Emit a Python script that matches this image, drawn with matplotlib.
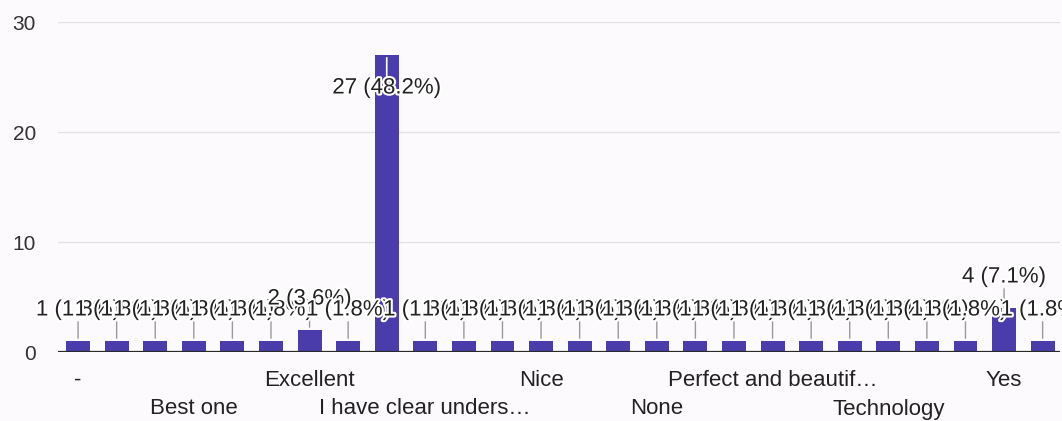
import matplotlib.pyplot as plt
import matplotlib.patheffects as pe

# response counts per answer (alphabetical, as the form orders them)
counts = [1, 1, 1, 1, 1, 1, 2, 1, 27, 1, 1, 1, 1, 1, 1, 1, 1, 1, 1, 1, 1, 1, 1, 1, 4, 1]
# only every third answer gets an axis label
tick_labels = ["-", "", "", "Best one", "", "", "Excellent", "", "",
               "I have clear unders\u2026", "", "", "Nice", "", "", "None", "", "",
               "Perfect and beautif\u2026", "", "", "Technology", "", "", "Yes", ""]
y_ticks = [0, 10, 20, 30]

plt.rcParams['font.family'] = ['Liberation Sans', 'DejaVu Sans']

bg = '#fcfafc'
bar_color = '#4a3caa'

fig = plt.figure(figsize=(10.62, 4.21), dpi=100, facecolor=bg)
ax = fig.add_axes([58 / 1062, 1 - 352 / 421, 1002 / 1062, 330 / 421])
ax.set_facecolor(bg)

x = list(range(len(counts)))
total = sum(counts)
ax.bar(x, counts, width=0.62, color=bar_color, zorder=3)

ax.set_xlim(-0.52, 25.45)
ax.set_ylim(0, 30)
for t in y_ticks[1:]:
    ax.axhline(t, color='#e4e1e6', lw=1, zorder=1)
ax.axhline(0, color='#2a2a2a', lw=1.6, zorder=4)

for s in ax.spines.values():
    s.set_visible(False)
ax.set_xticks([])
ax.set_yticks(y_ticks)
ax.tick_params(axis='y', length=0, pad=16, labelsize=15, labelcolor='#333333')

halo = [pe.withStroke(linewidth=3, foreground='white')]

# value annotations with a short stem; the tallest bar gets it inside
for i, v in enumerate(counts):
    label = f"{v} ({v / total * 100:.1f}%)"
    inside = v + 30 / 11 > 29
    if inside:
        ax.annotate("", xy=(i, v), xytext=(0, -30), textcoords='offset pixels',
                    arrowprops=dict(arrowstyle='-', color='white', lw=1.2), zorder=5)
        ax.annotate(label, xy=(i, v), xytext=(0, -33), textcoords='offset pixels',
                    ha='center', va='center', fontsize=16, color='#222222',
                    path_effects=halo, zorder=6, annotation_clip=False)
    else:
        ax.annotate("", xy=(i, v), xytext=(0, 22), textcoords='offset pixels',
                    arrowprops=dict(arrowstyle='-', color='#9a9a9a', lw=1), zorder=5)
        ax.annotate(label, xy=(i, v), xytext=(0, 31), textcoords='offset pixels',
                    ha='center', va='center', fontsize=16, color='#222222',
                    path_effects=halo, zorder=6, annotation_clip=False)

# category labels staggered over two rows
shown = 0
for i, name in enumerate(tick_labels):
    if not name:
        continue
    off = -28 if shown % 2 == 0 else -57
    ax.annotate(name, xy=(i, 0), xytext=(0, off), textcoords='offset pixels',
                ha='center', va='center', fontsize=16, color='#222222',
                annotation_clip=False)
    shown += 1

fig.savefig('out.png', dpi=100, facecolor=bg)
